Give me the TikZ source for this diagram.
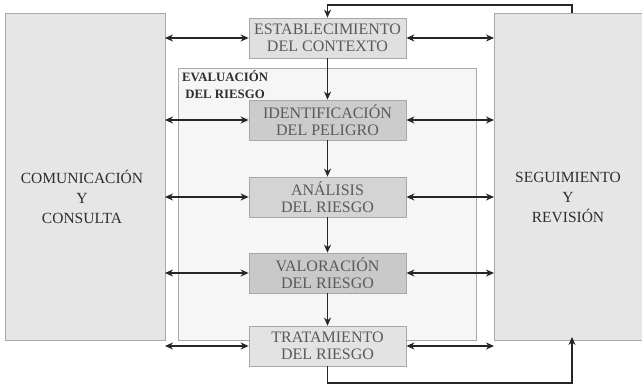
\documentclass[tikz,border=0pt]{standalone}
\usepackage{fontspec}
\setmainfont{Liberation Serif}
\usetikzlibrary{arrows.meta}
\definecolor{sidefill}{HTML}{E6E6E6}
\definecolor{evalfill}{HTML}{F6F6F6}
\definecolor{bordergray}{HTML}{A8A8A8}
\definecolor{txtgray}{HTML}{5A5A5A}
\definecolor{txtdark}{HTML}{2E2E2E}
\tikzset{
  sidebox/.style={draw=bordergray, fill=sidefill, line width=0.8pt},
  evalbox/.style={draw=bordergray, fill=evalfill, line width=0.8pt},
  procbox/.style={draw=bordergray, line width=0.8pt, minimum width=157pt, minimum height=40pt, inner sep=0pt, align=center, text=txtgray, font=\fontsize{16}{17.5}\selectfont},
  conn/.style={line width=1.4pt, draw=black!85, -{Stealth[length=8pt,width=7pt]}},
  dconn/.style={line width=1.4pt, draw=black!85, {Stealth[length=8pt,width=7pt]}-{Stealth[length=8pt,width=7pt]}},
}
\begin{document}
\begin{tikzpicture}[x=1pt,y=-1pt]
\useasboundingbox (0,0) rectangle (642,390);
\fill[white] (0,0) rectangle (642,390);
% side boxes
\draw[sidebox] (5,13) rectangle (165,340);
\node[text=txtdark, align=center, font=\fontsize{15.5}{20}\selectfont] (comtxt) at (82,197) {COMUNICACIÓN\\Y\\CONSULTA};
\draw[sidebox] (494,13) rectangle (645,340);
\node[text=txtdark, align=center, font=\fontsize{15.5}{20}\selectfont] (segtxt) at (568,197) {SEGUIMIENTO\\Y\\REVISIÓN};
% evaluation box
\draw[evalbox] (178,68) rectangle (476,340);
\node[anchor=north west, text=txtdark, align=center, inner sep=0pt, font=\bfseries\fontsize{12.8}{17}\selectfont] (evtxt) at (182,70) {EVALUACIÓN\\DEL RIESGO};
% process boxes
\node[procbox, fill=black!12] (est) at (327.5,38) {ESTABLECIMIENTO\\DEL CONTEXTO};
\node[procbox, fill=black!20] (ide) at (327.5,120) {IDENTIFICACIÓN\\DEL PELIGRO};
\node[procbox, fill=black!17] (ana) at (327.5,197) {ANÁLISIS\\DEL RIESGO};
\node[procbox, fill=black!21] (val) at (327.5,273) {VALORACIÓN\\DEL RIESGO};
\node[procbox, fill=black!11] (tra) at (327.5,346) {TRATAMIENTO\\DEL RIESGO};
% vertical flow
\draw[conn] (est) -- (ide);
\draw[conn] (ide) -- (ana);
\draw[conn] (ana) -- (val);
\draw[conn] (val) -- (tra);
% loop
\coordinate (rtop) at (572,13);
\coordinate (rbot) at (572,340);
\draw[conn] (rtop) -- (572,5) -- (327.5,5) -- (est.north);
\draw[conn] (tra.south) -- (327.5,383) -- (572,383) -- ([yshift=3pt]rbot);
% horizontal double arrows
\foreach \n in {est,ide,ana,val,tra}{
  \draw[dconn] (\n.west) -- (\n.west -| 165,0);
  \draw[dconn] (\n.east) -- (\n.east -| 494,0);
}
\end{tikzpicture}
\end{document}
